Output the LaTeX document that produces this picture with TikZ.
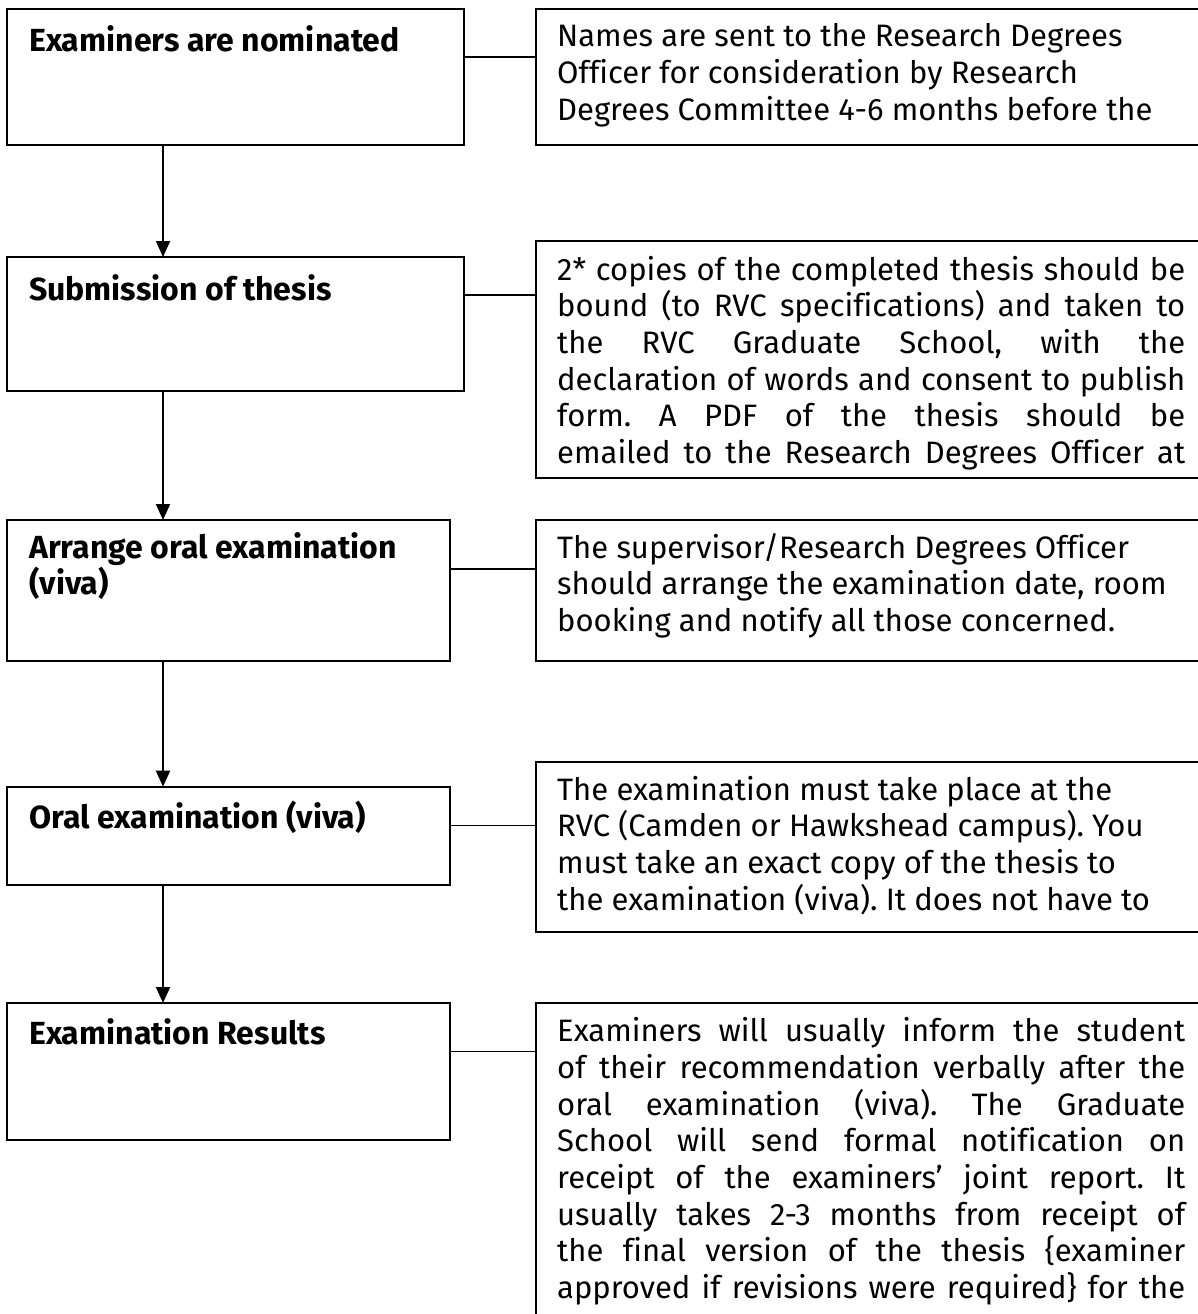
\documentclass[tikz,border=0pt]{standalone}
\usepackage{fontspec}
\setmainfont[Ligatures=NoCommon]{Fira Sans}
\usetikzlibrary{arrows.meta}
\frenchspacing
\newcommand\justline[1]{\makebox[\linewidth][s]{#1}}
\newcommand\txtsize{\fontsize{31}{36.67}\selectfont\frenchspacing}
\newcommand\ttlsize{\fontsize{32}{36.67}\selectfont\frenchspacing\bfseries}
\begin{document}
\begin{tikzpicture}[x=1pt,y=-1pt,
  stepbox/.style={draw=black, line width=2pt, anchor=north west, inner sep=0, outer sep=0},
  infobox/.style={draw=black, line width=2pt, anchor=north west, inner sep=0, outer sep=0},
  title/.style={anchor=base west, inner sep=0, font=\ttlsize},
  info/.style={anchor=base west, inner sep=0, font=\txtsize},
  link/.style={line width=1.5pt},
  flow/.style={line width=2pt, -{Triangle[length=16pt,width=14pt]}}]
\useasboundingbox (0,0) rectangle (1198,1314);
\fill[white] (0,0) rectangle (1198,1314);

% left step boxes
\node[stepbox, minimum width=457pt, minimum height=135.5pt] (b1) at (7,9.5) {};
\node[stepbox, minimum width=457pt, minimum height=133.7pt] (b2) at (7,257) {};
\node[stepbox, minimum width=443pt, minimum height=140.7pt] (b3) at (7,520) {};
\node[stepbox, minimum width=443pt, minimum height=98.3pt] (b4) at (7,786.7) {};
\node[stepbox, minimum width=443pt, minimum height=137pt] (b5) at (7,1003) {};

% right info boxes
\node[infobox, minimum width=680pt, minimum height=135.5pt] (r1) at (535.7,9.5) {};
\node[infobox, minimum width=680pt, minimum height=237pt] (r2) at (535.7,241) {};
\node[infobox, minimum width=680pt, minimum height=141pt] (r3) at (535.7,520) {};
\node[infobox, minimum width=680pt, minimum height=170pt] (r4) at (535.7,761.7) {};
\node[infobox, minimum width=680pt, minimum height=340pt] (r5) at (535.7,1003) {};

% titles
\node[title] (t1) at (29,52) {Examiners are nominated};
\node[title] (t2) at (29,300) {Submission of thesis};
\node[title] (t3) at (29,558) {\parbox[t]{420pt}{\ttlsize Arrange oral examination\\(viva)}};
\node[title] (t4) at (29,828) {Oral examination (viva)};
\node[title] (t5) at (29,1044) {Examination Results};

% info texts
\begin{scope}
\clip (r1.north west) rectangle (r1.south east);
\node[info] (i1) at (557,46.7) {\parbox[t]{628pt}{\txtsize
Names are sent to the Research Degrees\\
Officer for consideration by Research\\
Degrees Committee 4-6 months before the}};
\end{scope}
\begin{scope}
\clip (r2.north west) rectangle ([yshift=3pt]r2.south east);
\node[info] (i2) at (557,280) {\parbox[t]{628pt}{\txtsize
\justline{2* copies of the completed thesis should be}\\
\justline{bound (to RVC specifications) and taken to}\\
\justline{the RVC Graduate School, with the}\\
\justline{declaration of words and consent to publish}\\
\justline{form. A PDF of the thesis should be}\\
\justline{emailed to the Research Degrees Officer at}}};
\end{scope}
\begin{scope}
\clip (r3.north west) rectangle (r3.south east);
\node[info] (i3) at (557,558) {\parbox[t]{628pt}{\txtsize
The supervisor/Research Degrees Officer\\
should arrange the examination date, room\\
booking and notify all those concerned.}};
\end{scope}
\begin{scope}
\clip (r4.north west) rectangle (r4.south east);
\node[info] (i4) at (557,800) {\parbox[t]{628pt}{\txtsize
The examination must take place at the\\
RVC (Camden or Hawkshead campus). You\\
must take an exact copy of the thesis to\\
the examination (viva). It does not have to}};
\end{scope}
\begin{scope}
\clip (r5.north west) rectangle (r5.south east);
\node[info] (i5) at (557,1041.7) {\parbox[t]{628pt}{\txtsize
\justline{Examiners will usually inform the student}\\
\justline{of their recommendation verbally after the}\\
\justline{oral examination (viva). The Graduate}\\
\justline{School will send formal notification on}\\
\justline{receipt of the examiners’ joint report. It}\\
\justline{usually takes 2-3 months from receipt of}\\
\justline{the final version of the thesis \{examiner}\\
\justline{approved if revisions were required\} for the}}};
\end{scope}

% connectors
\draw[link] (b1.east |- 0,57) -- (r1.west |- 0,57);
\draw[link] (b2.east |- 0,295) -- (r2.west |- 0,295);
\draw[link] (b3.east |- 0,569) -- (r3.west |- 0,569);
\draw[link] (b4.east |- 0,825.7) -- (r4.west |- 0,825.7);
\draw[link] (b5.east |- 0,1051.7) -- (r5.west |- 0,1051.7);

\draw[flow] (b1.south -| 163,0) -- (b2.north -| 163,0);
\draw[flow] (b2.south -| 163,0) -- (b3.north -| 163,0);
\draw[flow] (b3.south -| 163,0) -- (b4.north -| 163,0);
\draw[flow] (b4.south -| 163,0) -- (b5.north -| 163,0);
\end{tikzpicture}
\end{document}
